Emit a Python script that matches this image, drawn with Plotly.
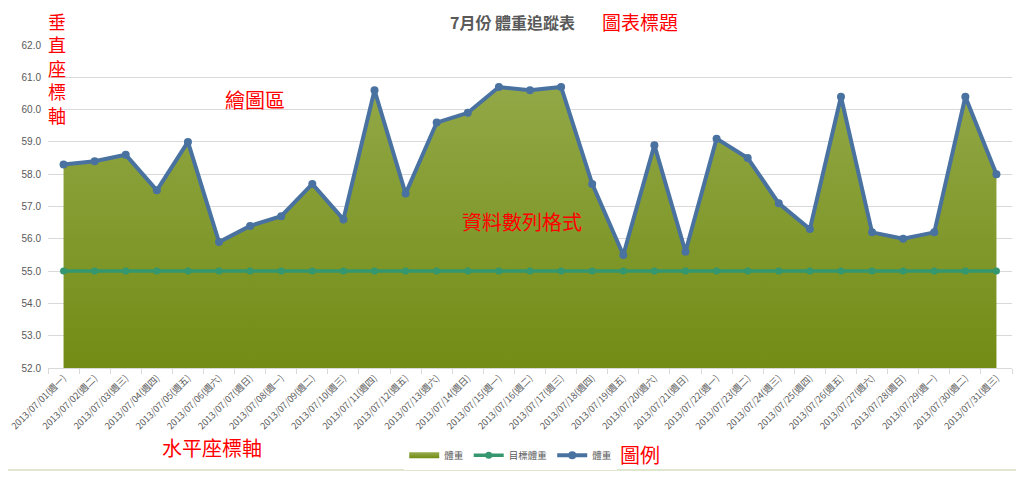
import plotly.graph_objects as go

# 7月份 體重追蹤表 data
dates = ["2013/07/01", "2013/07/02", "2013/07/03", "2013/07/04", "2013/07/05", "2013/07/06",
         "2013/07/07", "2013/07/08", "2013/07/09", "2013/07/10", "2013/07/11", "2013/07/12",
         "2013/07/13", "2013/07/14", "2013/07/15", "2013/07/16", "2013/07/17", "2013/07/18",
         "2013/07/19", "2013/07/20", "2013/07/21", "2013/07/22", "2013/07/23", "2013/07/24",
         "2013/07/25", "2013/07/26", "2013/07/27", "2013/07/28", "2013/07/29", "2013/07/30",
         "2013/07/31"]
weekdays = ["週一", "週二", "週三", "週四", "週五", "週六", "週日",
            "週一", "週二", "週三", "週四", "週五", "週六", "週日",
            "週一", "週二", "週三", "週四", "週五", "週六", "週日",
            "週一", "週二", "週三", "週四", "週五", "週六", "週日",
            "週一", "週二", "週三"]
weight = [58.3, 58.4, 58.6, 57.5, 59.0, 55.9, 56.4, 56.7, 57.7, 56.6, 60.6, 57.4,
          59.6, 59.9, 60.7, 60.6, 60.7, 57.7, 55.5, 58.9, 55.6, 59.1, 58.5, 57.1,
          56.3, 60.4, 56.2, 56.0, 56.2, 60.4, 58.0]
target = [55.0] * 31
y_ticks = [52, 53, 54, 55, 56, 57, 58, 59, 60, 61, 62]

labels = [d + "(" + w + ")" for d, w in zip(dates, weekdays)]

CJK = "Noto Sans CJK TC"
GRAY = "#595959"
RED = "#ff0000"

fig = go.Figure()
fig.add_trace(go.Scatter(x=labels, y=weight, name="體重", mode="none", fill="tozeroy",
                         fillgradient=dict(type="vertical", start=52, stop=62,
                                           colorscale=[[0, "#728c15"], [1, "#97ac4e"]])))
fig.add_trace(go.Scatter(x=labels, y=target, name="目標體重", mode="lines+markers",
                         line=dict(color="#34976f", width=3.5),
                         marker=dict(color="#34976f", size=7)))
fig.add_trace(go.Scatter(x=labels, y=weight, name="體重", mode="lines+markers",
                         line=dict(color="#4a72a0", width=4),
                         marker=dict(color="#4a72a0", size=8)))

# red callout labels
notes = [
    ("圖表標題", 0.614, 1.072, 19),
    ("垂<br>直<br>座<br>標<br>軸", 0.0098, 0.928, 18),
    ("繪圖區", 0.215, 0.830, 20),
    ("資料數列格式", 0.492, 0.455, 20),
    ("水平座標軸", 0.170, -0.245, 20),
    ("圖例", 0.614, -0.269, 20),
]
for txt, xp, yp, sz in notes:
    fig.add_annotation(text=txt, x=xp, y=yp, xref="paper", yref="paper", showarrow=False,
                       xanchor="center", yanchor="middle",
                       font=dict(family=CJK, size=sz, color=RED), align="center")

fig.add_annotation(text="<b>7月份 體重追蹤表</b>", x=0.482, y=1.072, xref="paper", yref="paper",
                   showarrow=False, xanchor="center", yanchor="middle",
                   font=dict(family=CJK, size=16, color=GRAY))

# outer frame, bottom edge
fig.add_shape(type="line", xref="paper", yref="paper", x0=-0.06, x1=1.02, y0=-0.316, y1=-0.316,
              line=dict(color="#e1e6cf", width=2))

# page is drawn with an 8px offset, so margins are shifted to compensate
fig.update_layout(
    width=1024, height=480,
    margin=dict(l=39.5, r=19.5, t=37, b=120, autoexpand=False),
    paper_bgcolor="white", plot_bgcolor="white",
    font=dict(family=CJK, color=GRAY),
    showlegend=True,
    legend=dict(orientation="h", x=0.48, xanchor="center", y=-0.27, yanchor="middle",
                font=dict(family=CJK, size=9.5, color=GRAY), itemwidth=30),
)
fig.update_xaxes(type="category", range=[-0.5, 30.5], tickangle=-45, tickson="boundaries",
                 ticks="outside", ticklen=5, tickcolor="#d9d9d9", showgrid=False,
                 showline=True, linecolor="#d9d9d9", linewidth=1, automargin=False,
                 tickfont=dict(family=CJK, size=9.2, color=GRAY))
fig.update_yaxes(range=[52, 62], tickvals=y_ticks, tickformat=".1f", showgrid=True,
                 gridcolor="#d9d9d9", gridwidth=1, zeroline=False, showline=False,
                 ticks="", automargin=False, ticklabelstandoff=6,
                 tickfont=dict(family="Liberation Sans", size=10, color=GRAY))

fig.write_html("out.html")
